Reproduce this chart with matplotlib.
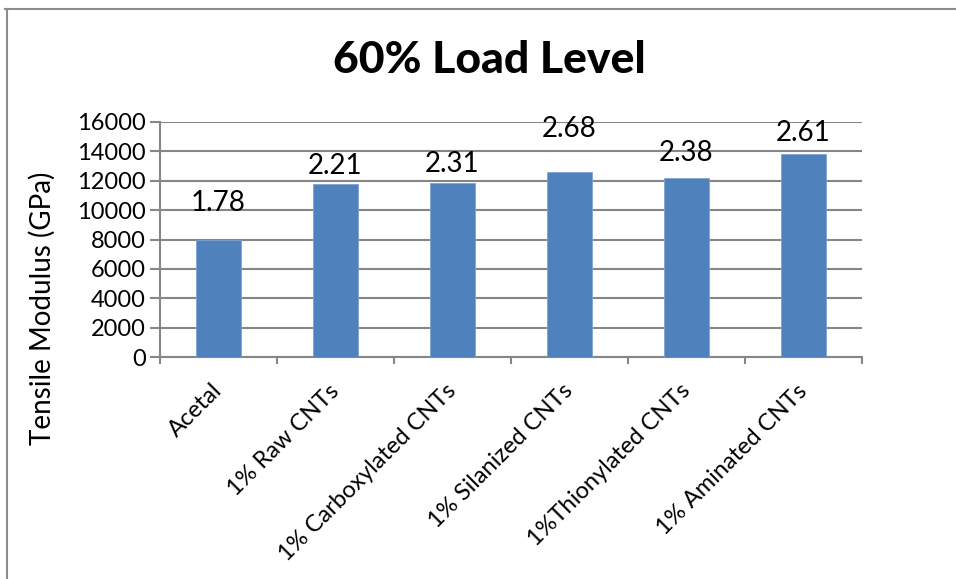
import matplotlib
matplotlib.use('Agg')
import matplotlib.pyplot as plt
from matplotlib.lines import Line2D

# data
categories = ['Acetal', '1% Raw CNTs', '1% Carboxylated CNTs', '1% Silanized CNTs',
              '1%Thionylated CNTs', '1% Aminated CNTs']
modulus = [8000, 11800, 11850, 12600, 12200, 13850]
value_labels = ['1.78', '2.21', '2.31', '2.68', '2.38', '2.61']

# label gap above each bar (points), as placed in the original chart
label_pad = [26, 13, 13.5, 31, 18, 14.5]

plt.rcParams['font.family'] = ['Lato', 'DejaVu Sans']

grey = '#868686'
bar_color = '#4F81BD'

fig = plt.figure(figsize=(9.56, 5.79), dpi=100)
W, H = 956, 579
ax = fig.add_axes([160 / W, 1 - 357 / H, (862 - 160) / W, (357 - 122) / H])

x = list(range(len(categories)))
bars = ax.bar(x, modulus, width=0.39, color=bar_color, edgecolor='#7FA3D3',
              linewidth=0.6, zorder=3)

for rect, txt, pad in zip(bars, value_labels, label_pad):
    ax.annotate(txt, (rect.get_x() + rect.get_width() / 2, rect.get_height()),
                xytext=(0, pad), textcoords='offset points',
                ha='center', va='center', fontsize=20, color='black')

ax.set_ylim(0, 16000)
ax.set_xlim(-0.5, len(categories) - 0.5)
ax.set_yticks(range(0, 16001, 2000))
ax.yaxis.grid(True, color=grey, linewidth=1.5, zorder=0)
ax.set_axisbelow(True)

# tick marks at category boundaries, labels at centres
ax.set_xticks([i - 0.5 for i in range(len(categories) + 1)])
ax.set_xticklabels([])
ax.set_xticks(x, minor=True)
ax.set_xticklabels(categories, minor=True, rotation=45, ha='right',
                   rotation_mode='anchor', va='center', fontsize=17)
ax.tick_params(axis='x', which='minor', length=0, pad=22)
ax.tick_params(axis='x', which='major', length=5, width=1.5, color=grey, direction='out')
ax.tick_params(axis='y', length=7, width=1.5, color=grey, direction='out', labelsize=17, pad=3)

for side in ['top', 'right']:
    ax.spines[side].set_visible(False)
for side in ['left', 'bottom']:
    ax.spines[side].set_color(grey)
    ax.spines[side].set_linewidth(1.5)

ax.set_ylabel('Tensile Modulus (GPa)', fontsize=20)
ax.yaxis.set_label_coords(-(160 - 56) / (862 - 160), (357 - 308) / (357 - 122))

fig.text(489 / W, 1 - 60 / H, '60% Load Level', ha='center', va='center',
         fontsize=32, fontweight='black')

# outer chart border (top and left edges visible in the original)
fig.add_artist(Line2D([5 / W, 1], [1 - 9 / H, 1 - 9 / H], color='#8c8c8c', linewidth=1.5))
fig.add_artist(Line2D([7 / W, 7 / W], [0, 1 - 9 / H], color='#8c8c8c', linewidth=1.5))

fig.savefig('out.png', dpi=100)
